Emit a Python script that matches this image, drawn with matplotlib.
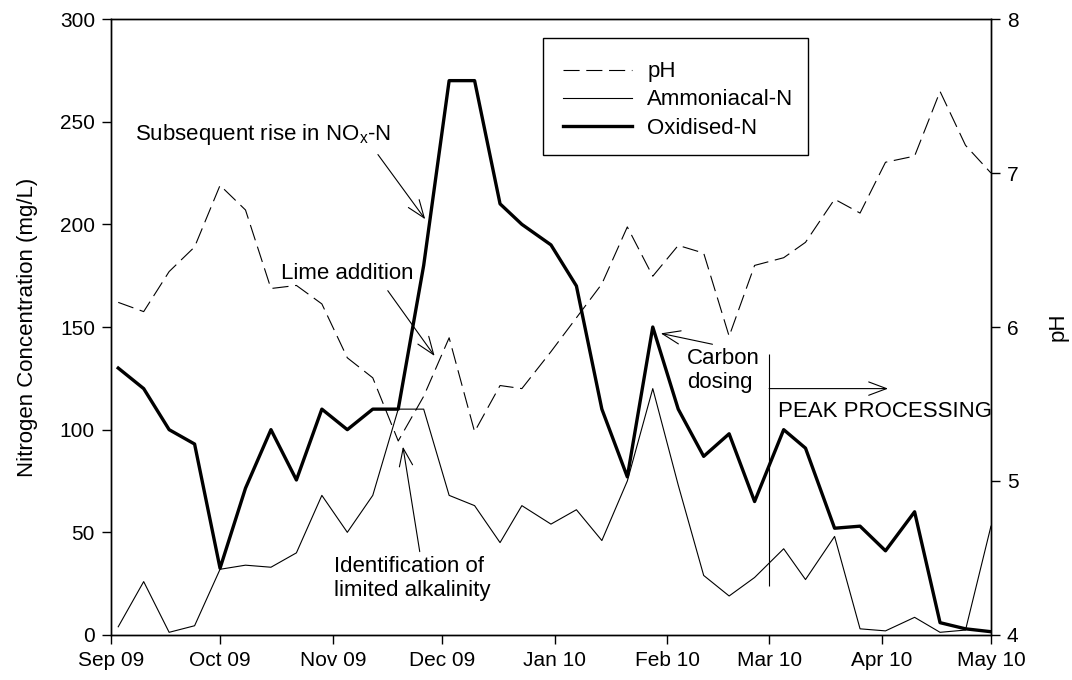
import matplotlib
matplotlib.use("Agg")
import matplotlib.pyplot as plt
import matplotlib.dates as mdates
import matplotlib.patches as mpatches
import pandas as pd

plt.rcParams["font.family"] = ["Liberation Sans", "DejaVu Sans"]
plt.rcParams["font.size"] = 16
plt.rcParams["mathtext.fontset"] = "custom"
plt.rcParams["mathtext.rm"] = "Liberation Sans"
plt.rcParams["mathtext.it"] = "Liberation Sans"

# ── Data ──────────────────────────────────────────────────────────────────────
sample_dates = pd.to_datetime([
    "2009-09-03", "2009-09-10", "2009-09-17", "2009-09-24", "2009-10-01",
    "2009-10-08", "2009-10-15", "2009-10-22", "2009-10-29", "2009-11-05",
    "2009-11-12", "2009-11-19", "2009-11-26", "2009-12-03", "2009-12-10",
    "2009-12-17", "2009-12-23", "2009-12-31", "2010-01-07", "2010-01-14",
    "2010-01-21", "2010-01-28", "2010-02-04", "2010-02-11", "2010-02-18",
    "2010-02-25", "2010-03-05", "2010-03-11", "2010-03-19", "2010-03-26",
    "2010-04-02", "2010-04-10", "2010-04-17", "2010-04-24", "2010-05-01",
])
ph = [6.16, 6.10, 6.36, 6.52, 6.92, 6.76, 6.25, 6.27, 6.15, 5.80,
      5.67, 5.26, 5.55, 5.93, 5.32, 5.62, 5.60, 5.84, 6.06, 6.28,
      6.65, 6.33, 6.53, 6.48, 5.94, 6.40, 6.45, 6.55, 6.83, 6.74,
      7.07, 7.11, 7.53, 7.18, 7.00]
ammoniacal_n = [4, 26, 1.3, 4.5, 32, 34, 33, 40, 68, 50,
                68, 110, 110, 68, 63, 45, 63, 54, 61, 46,
                75, 120, 73, 29, 19, 28, 42, 27, 48, 3,
                2, 8.6, 1.3, 2.4, 53]
oxidised_n = [130, 120, 100, 93, 32.5, 71.5, 100, 75.5, 110, 100,
              110, 110, 180, 270, 270, 210, 200, 190, 170, 110,
              77, 150, 110, 87, 98, 65, 100, 91, 52, 53,
              41, 60, 6, 3, 1.6]


def dn(s):
    return mdates.date2num(pd.Timestamp(s))


def arrow(ax, tail, tip, hl=0.8, hw=0.3):
    ax.annotate("", xy=(dn(tip[0]), tip[1]), xytext=(dn(tail[0]), tail[1]),
                arrowprops=dict(arrowstyle=f"->,head_length={hl},head_width={hw}",
                                color="black", lw=0.8, shrinkA=0, shrinkB=0))


fig = plt.figure(figsize=(10.72, 6.8), dpi=100)
ax = fig.add_axes([0.1035, 0.0662, 0.8209, 0.9058])
ax2 = ax.twinx()

l_ox, = ax.plot(sample_dates, oxidised_n, color="black", lw=2.4, label="Oxidised-N")
l_am, = ax.plot(sample_dates, ammoniacal_n, color="black", lw=0.8, label="Ammoniacal-N")
l_ph, = ax2.plot(sample_dates, ph, color="black", lw=0.8, label="pH")
l_ph.set_dashes((14.5, 6.0))

ax.set_xlim(pd.Timestamp("2009-09-01"), pd.Timestamp("2010-05-01"))
ax.set_ylim(0, 300)
ax2.set_ylim(4, 8)
ax.set_yticks(range(0, 301, 50))
ax2.set_yticks(range(4, 9))
ax.xaxis.set_major_locator(mdates.MonthLocator())
ax.xaxis.set_major_formatter(mdates.DateFormatter("%b %y"))

for a in (ax, ax2):
    for sp in a.spines.values():
        sp.set_linewidth(1.0)
    a.tick_params(direction="out", length=6.5, width=1.0, pad=5, labelsize=15)
ax.tick_params(top=False)

ax.set_ylabel("Nitrogen Concentration (mg/L)", fontsize=16)
ax.yaxis.set_label_coords(-0.0825, 0.5)
ax2.set_ylabel("pH", fontsize=16)
ax2.yaxis.set_label_coords(1.064, 0.5)

# legend box drawn separately so the padding can match the original
ax2.add_patch(mpatches.Rectangle((0.4906, 0.779), 0.3018, 0.1897, transform=ax2.transAxes,
                                 facecolor="white", edgecolor="black", lw=1.0, zorder=4))
leg = ax2.legend(handles=[l_ph, l_am, l_ox], loc="upper left",
                 bbox_to_anchor=(0.4906, 0.9638), borderaxespad=0, frameon=False,
                 handlelength=3.1, handletextpad=0.7,
                 borderpad=0.9, labelspacing=0.32, fontsize=16)
leg.set_zorder(5)

# ── Annotations ──────────────────────────────────────────────────────────────
ax.text(dn("2009-09-07 14:00"), 241, r"Subsequent rise in NO$_{\mathrm{x}}$-N",
        ha="left", va="baseline")
arrow(ax, ("2009-11-13 10:00", 234), ("2009-11-26 10:00", 202.5))

ax.text(dn("2009-10-17 17:00"), 173.3, "Lime addition", ha="left", va="baseline")
arrow(ax, ("2009-11-16 03:00", 167.7), ("2009-11-29", 135.9))

ax.text(dn("2009-11-01 07:00"), 38.5, "Identification of\nlimited alkalinity",
        ha="left", va="top")
arrow(ax, ("2009-11-24 22:00", 40.6), ("2009-11-20 07:00", 91.7))

ax.text(dn("2010-02-06 12:00"), 140, "Carbon\ndosing", ha="left", va="top")
arrow(ax, ("2010-02-13 10:00", 141.6), ("2010-01-30 05:00", 146.9))

ax.vlines(dn("2010-03-01"), 24, 137, color="black", lw=0.8)
arrow(ax, ("2010-03-01", 120), ("2010-04-02 17:00", 120))
ax.text(dn("2010-03-03 08:00"), 106, "PEAK PROCESSING", ha="left", va="baseline")

fig.savefig("out.png", dpi=100)
